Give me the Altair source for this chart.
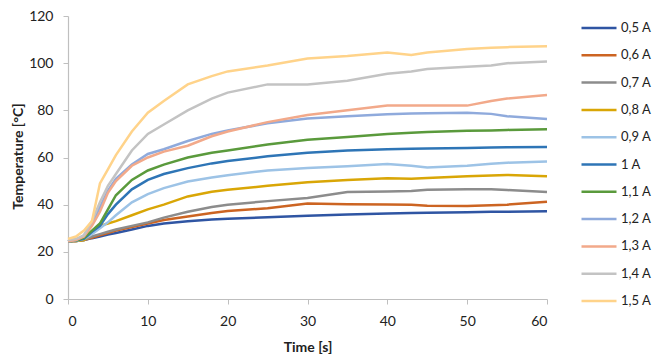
import altair as alt
import pandas as pd

time_s = [0, 1, 2, 3, 4, 5, 6, 8, 10, 12, 15, 18, 20, 25, 30, 35, 40, 43, 45, 50, 53, 55, 60]

series_names = ["0,5 A", "0,6 A", "0,7 A", "0,8 A", "0,9 A", "1 A",
                "1,1 A", "1,2 A", "1,3 A", "1,4 A", "1,5 A"]

t_05 = [24.5, 24.6, 25, 25.8, 26.5, 27.3, 28, 29.5, 31, 32, 33, 33.7, 34, 34.7, 35.3, 35.8, 36.3, 36.5, 36.6, 36.8, 37, 37, 37.2]
t_06 = [24.5, 24.6, 25, 26, 27, 28, 29, 30.5, 32, 33.5, 35, 36.5, 37.3, 38.5, 40.5, 40.2, 40.1, 40, 39.5, 39.4, 39.7, 40, 41.2]
t_07 = [24.5, 24.6, 25, 26.5, 27.5, 28.5, 29.5, 31, 32.5, 34.5, 37, 39, 40, 41.5, 42.8, 45.4, 45.6, 45.8, 46.3, 46.5, 46.5, 46.2, 45.4]
t_08 = [24.5, 24.6, 25, 28, 31, 32, 33, 35.5, 38, 40, 43.5, 45.5, 46.3, 48, 49.5, 50.5, 51.2, 51, 51.3, 52, 52.4, 52.6, 52.1]
t_09 = [24.5, 24.7, 25.5, 27.5, 30, 32.5, 35.5, 41, 44.5, 47, 49.8, 51.5, 52.5, 54.5, 55.5, 56.3, 57.2, 56.5, 55.8, 56.5, 57.3, 57.8, 58.3]
t_10 = [24.5, 24.8, 25.5, 28.5, 31, 36, 40, 46.5, 50.5, 53, 55.5, 57.5, 58.5, 60.5, 62, 63, 63.5, 63.7, 63.8, 64, 64.2, 64.3, 64.4]
t_11 = [24.5, 24.8, 26, 29, 32, 38, 44, 50.5, 54.5, 57, 60, 62, 63, 65.5, 67.5, 68.7, 70, 70.5, 70.8, 71.3, 71.5, 71.7, 72]
t_12 = [24.5, 25, 27, 32, 39, 46, 51, 57, 61.5, 63.5, 67, 70, 71.5, 74.5, 76.5, 77.5, 78.3, 78.7, 78.8, 79, 78.5, 77.5, 76.3]
t_13 = [24.5, 25, 26.5, 31, 37, 45, 50, 56.5, 60, 62.5, 65, 69, 71, 75, 78, 80, 82, 82, 82, 82, 84, 85, 86.5]
t_14 = [25, 25.5, 27, 33, 41, 48, 53, 63, 70, 74, 80, 85, 87.5, 91, 91, 92.5, 95.5, 96.5, 97.5, 98.5, 99, 100, 100.7]
t_15 = [25.5, 26.5, 29, 33, 49, 55, 61, 71, 79, 84, 91, 94.5, 96.5, 99, 102, 103, 104.5, 103.5, 104.5, 106, 106.5, 106.8, 107.2]

series_values = [t_05, t_06, t_07, t_08, t_09, t_10, t_11, t_12, t_13, t_14, t_15]

colors = ["#2F55A3", "#CC6422", "#8C8C8C", "#D9A606", "#9DC3E6", "#2E75B6",
          "#5A9A3C", "#8FAADC", "#F2A98A", "#C3C3C3", "#FFD38A"]

rows = []
for name, vals in zip(series_names, series_values):
    for t, v in zip(time_s, vals):
        rows.append({"Time": t, "Temperature": v, "Series": name})
df = pd.DataFrame(rows)

FONT = "Lato"

chart = alt.Chart(df).mark_line(strokeWidth=2.5).encode(
    x=alt.X("Time:Q",
            scale=alt.Scale(domain=[0, 60], nice=False),
            axis=alt.Axis(title="Time [s]", values=[0, 10, 20, 30, 40, 50, 60],
                          grid=False, tickSize=5, labelPadding=10,
                          titlePadding=12)),
    y=alt.Y("Temperature:Q",
            scale=alt.Scale(domain=[0, 120], nice=False),
            axis=alt.Axis(title="Temperature [°C]", values=[0, 20, 40, 60, 80, 100, 120],
                          grid=False, tickSize=5, labelPadding=10,
                          titleX=-50, titleY=140, titleBaseline="middle")),
    color=alt.Color("Series:N",
                    scale=alt.Scale(domain=series_names, range=colors),
                    sort=series_names,
                    legend=alt.Legend(title=None, orient="none", legendX=512, legendY=-7,
                                      symbolType="stroke", symbolSize=1225,
                                      symbolStrokeWidth=2.5, rowPadding=1.3,
                                      labelOffset=3, labelFontSize=13,
                                      labelFont=FONT, labelColor="#222222")),
    order=alt.Order("Time:Q"),
).properties(
    width=479, height=283,
    autosize=alt.AutoSizeParams(type="none"),
    padding={"left": 60, "top": 8, "right": 106, "bottom": 60},
).configure_view(stroke=None).configure_axis(
    domainColor="#BFBFBF", tickColor="#BFBFBF", domainWidth=1.2,
    labelFont=FONT, labelFontSize=14, labelColor="#222222",
    titleFont=FONT, titleFontSize=14, titleFontWeight="bold", titleColor="#222222",
)

chart.save("out.html", embed_options={"renderer": "svg", "actions": False})
